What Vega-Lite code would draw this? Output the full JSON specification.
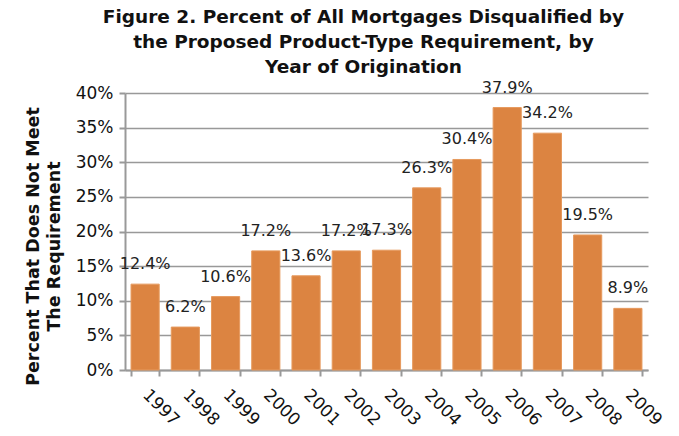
{
  "$schema": "https://vega.github.io/schema/vega-lite/v6.json",
  "width": 523,
  "height": 277,
  "autosize": {"type": "none"},
  "padding": {"left": 125, "top": 93, "right": 31, "bottom": 66},
  "background": "white",
  "config": {
    "font": "DejaVu Sans",
    "view": {"stroke": null}
  },
  "title": {
    "text": ["Figure 2. Percent of All Mortgages Disqualified by", "the Proposed Product-Type Requirement, by", "Year of Origination"],
    "fontSize": 18.5,
    "fontWeight": "bold",
    "color": "#111111",
    "lineHeight": 25,
    "anchor": "middle",
    "frame": "group",
    "dx": -23,
    "offset": 3
  },
  "data": {
    "values": [
      {"year": "1997", "pct": 0.124},
      {"year": "1998", "pct": 0.062},
      {"year": "1999", "pct": 0.106},
      {"year": "2000", "pct": 0.172},
      {"year": "2001", "pct": 0.136},
      {"year": "2002", "pct": 0.172},
      {"year": "2003", "pct": 0.173},
      {"year": "2004", "pct": 0.263},
      {"year": "2005", "pct": 0.304},
      {"year": "2006", "pct": 0.379},
      {"year": "2007", "pct": 0.342},
      {"year": "2008", "pct": 0.195},
      {"year": "2009", "pct": 0.089}
    ]
  },
  "encoding": {
    "x": {
      "field": "year",
      "type": "ordinal",
      "scale": {"paddingInner": 0.3, "paddingOuter": 0.15},
      "axis": {
        "title": null,
        "labelAngle": 45,
        "labelAlign": "left",
        "labelBaseline": "middle",
        "labelFontSize": 17,
        "labelColor": "#111111",
        "labelPadding": 16,
        "domainColor": "#999999",
        "domainWidth": 2,
        "tickColor": "#999999",
        "tickWidth": 2,
        "tickSize": 6,
        "tickBand": "extent"
      }
    },
    "y": {
      "field": "pct",
      "type": "quantitative",
      "scale": {"domain": [0, 0.4], "nice": false},
      "axis": {
        "title": ["Percent That Does Not Meet", "The Requirement"],
        "titleFontSize": 17.5,
        "titleFontWeight": "bold",
        "titleColor": "#111111",
        "titleX": -83,
        "titleY": 153,
        "titleLineHeight": 21,
        "format": ".0%",
        "values": [0, 0.05, 0.1, 0.15, 0.2, 0.25, 0.3, 0.35, 0.4],
        "labelFontSize": 17,
        "labelColor": "#111111",
        "labelPadding": 6,
        "grid": true,
        "gridColor": "#999999",
        "gridWidth": 1.5,
        "domainColor": "#999999",
        "domainWidth": 2,
        "tickColor": "#999999",
        "tickWidth": 2,
        "tickSize": 6
      }
    }
  },
  "layer": [
    {
      "mark": {"type": "bar", "color": "#dc8441", "stroke": "#e69a5e", "strokeWidth": 1}
    },
    {
      "mark": {"type": "text", "baseline": "bottom", "dy": -12, "fontSize": 16, "color": "#222222"},
      "encoding": {
        "text": {"field": "pct", "type": "quantitative", "format": ".1%"}
      }
    }
  ]
}
